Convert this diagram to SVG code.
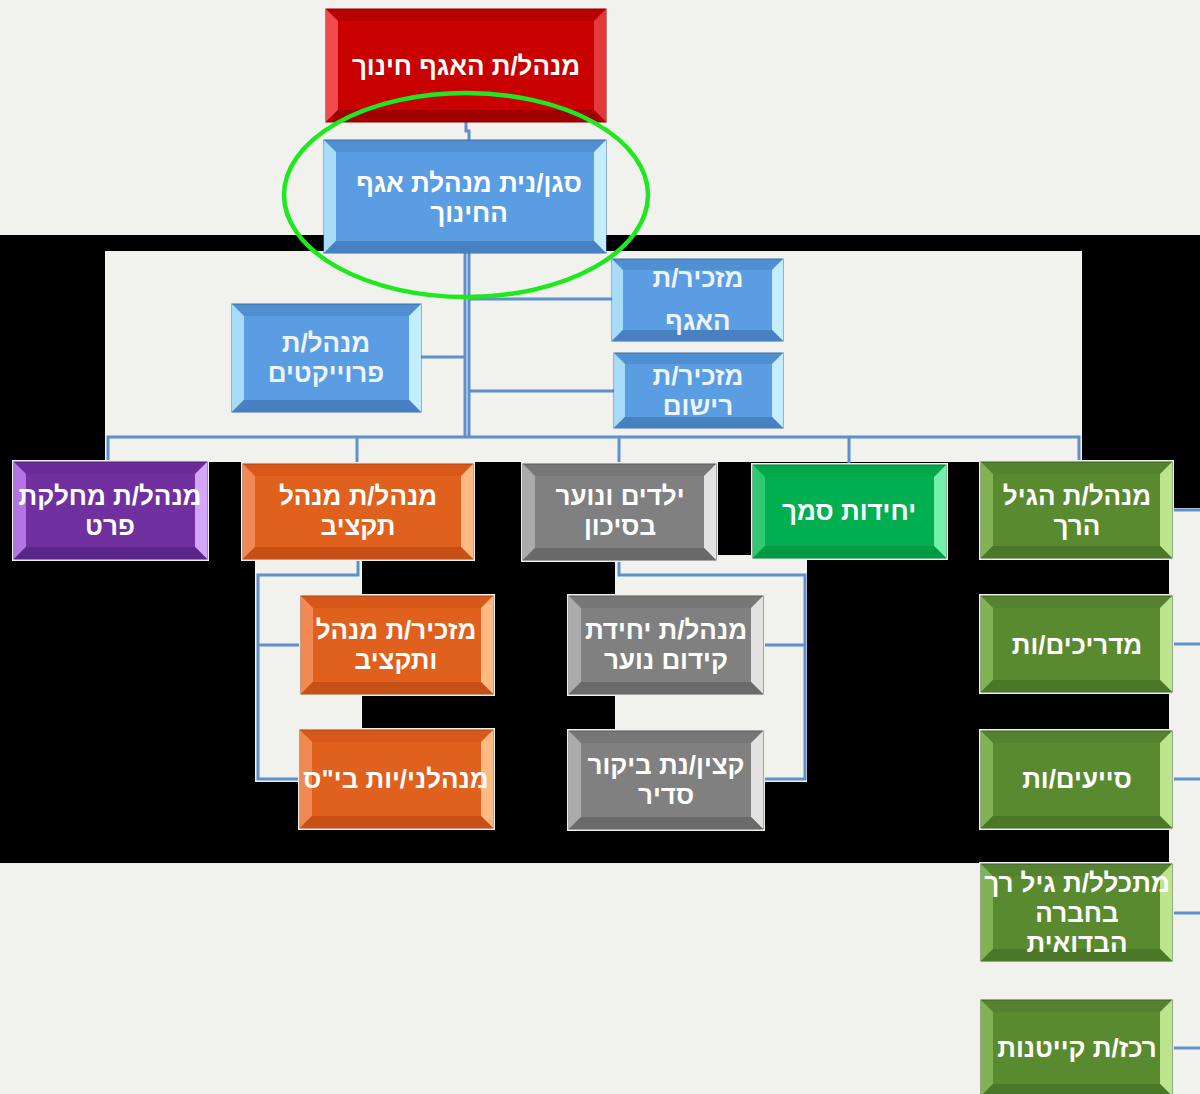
<svg xmlns="http://www.w3.org/2000/svg" width="1200" height="1094" viewBox="0 0 1200 1094">
<style>
.t{fill:#ffffff;font-family:"Liberation Sans","DejaVu Sans",Arial,sans-serif;font-weight:bold;font-size:26px;text-anchor:middle;direction:rtl}
.tl{fill:#eef4fb}
.halo{fill:#eef0ea}
.con{fill:none;stroke:#5f90cc;stroke-width:3}
.red .o{fill:#b80000;stroke:#8c0000;stroke-width:1}.red .l{fill:#f04a4a}.red .r{fill:#e23a3a}.red .b{fill:#a20000}.red .f{fill:#c80000}
.blue .o{fill:#4f8fd2;stroke:#3a6ea8;stroke-width:1}.blue .l{fill:#a6dcf8}.blue .r{fill:#c2eeff}.blue .b{fill:#4781c2}.blue .f{fill:#5b9de2}
.pur .o{fill:#6a2c98;stroke:#4e1f74;stroke-width:1}.pur .l{fill:#b474e4}.pur .r{fill:#d4a6fa}.pur .b{fill:#5c2688}.pur .f{fill:#7030a0}
.ora .o{fill:#d8581a;stroke:#a84412;stroke-width:1}.ora .l{fill:#f08a52}.ora .r{fill:#ffba84}.ora .b{fill:#c65016}.ora .f{fill:#e0601e}
.gry .o{fill:#777777;stroke:#5a5a5a;stroke-width:1}.gry .l{fill:#ababab}.gry .r{fill:#e2e2e2}.gry .b{fill:#6a6a6a}.gry .f{fill:#808080}
.smk .o{fill:#00a84a;stroke:#008038;stroke-width:1}.smk .l{fill:#30c870}.smk .r{fill:#74f0aa}.smk .b{fill:#009a44}.smk .f{fill:#00b050}
.olv .o{fill:#558230;stroke:#3f6322;stroke-width:1}.olv .l{fill:#82b252}.olv .r{fill:#bce48c}.olv .b{fill:#4b7828}.olv .f{fill:#5a8a30}
</style>
<rect x="0" y="0" width="1200" height="1094" fill="#f1f2ed"/>
<g id="backdrop">
<rect x="0" y="235" width="1169" height="628" fill="#000000"/>
<rect x="1169" y="235" width="31" height="273" fill="#000000"/>
<rect x="105" y="251" width="977" height="211" fill="#f1f2ed"/>
<rect x="255" y="558" width="107" height="224" fill="#f1f2ed"/>
<rect x="615" y="555" width="192" height="227" fill="#f1f2ed"/>
</g>
<g id="connectors">
<path class="con" d="M466,122 V131 H469 V140"/>
<path class="con" d="M465,253 V437"/>
<path class="con" d="M469,253 V437"/>
<path class="con" d="M469,299 H612"/>
<path class="con" d="M469,391 H614"/>
<path class="con" d="M421,357 H465"/>
<path class="con" d="M108,462 V437 H1079 V462"/>
<path class="con" d="M357,437 V464"/>
<path class="con" d="M619,437 V464"/>
<path class="con" d="M849,437 V465"/>
<path class="con" d="M358,559 V575 H258 V779 H300"/>
<path class="con" d="M258,645 H301"/>
<path class="con" d="M619,560 V575 H805 V779 H763"/>
<path class="con" d="M805,645 H763"/>
<path class="con" d="M1172,510 H1200"/>
<path class="con" d="M1172,644 H1200"/>
<path class="con" d="M1172,779 H1200"/>
<path class="con" d="M1172,913 H1200"/>
<path class="con" d="M1172,1048 H1200"/>
</g>
<g id="n-head" class="red">
<rect class="o" x="326" y="9" width="280" height="113"/>
<polygon class="l" points="326,9 338,21 338,110 326,122"/>
<polygon class="r" points="606,9 594,21 594,110 606,122"/>
<polygon class="b" points="326,122 606,122 594,110 338,110"/>
<rect class="f" x="338" y="21" width="256" height="89"/>
<text class="t" x="466" y="75">מנהל/ת האגף חינוך</text>
</g>
<g id="n-deputy" class="blue">
<rect class="o" x="324" y="140" width="282" height="113"/>
<polygon class="l" points="324,140 336,152 336,241 324,253"/>
<polygon class="r" points="606,140 594,152 594,241 606,253"/>
<polygon class="b" points="324,253 606,253 594,241 336,241"/>
<rect class="f" x="336" y="152" width="258" height="89"/>
<text class="t" x="469" y="192">סגן/נית מנהלת אגף</text>
<text class="t" x="469" y="222">החינוך</text>
</g>
<g id="n-sec1" class="blue">
<rect class="o" x="612" y="259" width="171" height="82"/>
<polygon class="l" points="612,259 623,270 623,330 612,341"/>
<polygon class="r" points="783,259 772,270 772,330 783,341"/>
<polygon class="b" points="612,341 783,341 772,330 623,330"/>
<rect class="f" x="623" y="270" width="149" height="60"/>
<text class="t tl" x="698" y="287">מזכיר/ת</text>
<text class="t tl" x="698" y="330">האגף</text>
</g>
<g id="n-sec2" class="blue">
<rect class="o" x="614" y="353" width="169" height="75"/>
<polygon class="l" points="614,353 625,364 625,417 614,428"/>
<polygon class="r" points="783,353 772,364 772,417 783,428"/>
<polygon class="b" points="614,428 783,428 772,417 625,417"/>
<rect class="f" x="625" y="364" width="147" height="53"/>
<text class="t tl" x="698" y="385">מזכיר/ת</text>
<text class="t tl" x="698" y="415">רישום</text>
</g>
<g id="n-projects" class="blue">
<rect class="o" x="232" y="304" width="189" height="108"/>
<polygon class="l" points="232,304 244,316 244,400 232,412"/>
<polygon class="r" points="421,304 409,316 409,400 421,412"/>
<polygon class="b" points="232,412 421,412 409,400 244,400"/>
<rect class="f" x="244" y="316" width="165" height="84"/>
<text class="t tl" x="326" y="352">מנהל/ת</text>
<text class="t tl" x="326" y="382">פרוייקטים</text>
</g>
<g id="n-prat" class="pur">
<rect class="halo" x="12" y="460" width="197" height="101"/>
<rect class="o" x="14" y="462" width="193" height="97"/>
<polygon class="l" points="14,462 26,474 26,547 14,559"/>
<polygon class="r" points="207,462 195,474 195,547 207,559"/>
<polygon class="b" points="14,559 207,559 195,547 26,547"/>
<rect class="f" x="26" y="474" width="169" height="73"/>
<text class="t" x="110" y="505">מנהל/ת מחלקת</text>
<text class="t" x="110" y="535">פרט</text>
</g>
<g id="n-budget" class="ora">
<rect class="halo" x="241" y="462" width="234" height="99"/>
<rect class="o" x="243" y="464" width="230" height="95"/>
<polygon class="l" points="243,464 255,476 255,547 243,559"/>
<polygon class="r" points="473,464 461,476 461,547 473,559"/>
<polygon class="b" points="243,559 473,559 461,547 255,547"/>
<rect class="f" x="255" y="476" width="206" height="71"/>
<text class="t" x="358" y="505">מנהל/ת מנהל</text>
<text class="t" x="358" y="535">תקציב</text>
</g>
<g id="n-budget-sec" class="ora">
<rect class="halo" x="299" y="594" width="196" height="102"/>
<rect class="o" x="301" y="596" width="192" height="98"/>
<polygon class="l" points="301,596 313,608 313,682 301,694"/>
<polygon class="r" points="493,596 481,608 481,682 493,694"/>
<polygon class="b" points="301,694 493,694 481,682 313,682"/>
<rect class="f" x="313" y="608" width="168" height="74"/>
<text class="t" x="396" y="639">מזכיר/ת מנהל</text>
<text class="t" x="396" y="669">ותקציב</text>
</g>
<g id="n-school-admins" class="ora">
<rect class="halo" x="298" y="728" width="197" height="102"/>
<rect class="o" x="300" y="730" width="193" height="98"/>
<polygon class="l" points="300,730 312,742 312,816 300,828"/>
<polygon class="r" points="493,730 481,742 481,816 493,828"/>
<polygon class="b" points="300,828 493,828 481,816 312,816"/>
<rect class="f" x="312" y="742" width="169" height="74"/>
<text class="t" x="396" y="788">מנהלני/יות בי"ס</text>
</g>
<g id="n-youth-risk" class="gry">
<rect class="halo" x="521" y="462" width="197" height="100"/>
<rect class="o" x="523" y="464" width="193" height="96"/>
<polygon class="l" points="523,464 535,476 535,548 523,560"/>
<polygon class="r" points="716,464 704,476 704,548 716,560"/>
<polygon class="b" points="523,560 716,560 704,548 535,548"/>
<rect class="f" x="535" y="476" width="169" height="72"/>
<text class="t" x="620" y="505">ילדים ונוער</text>
<text class="t" x="620" y="535">בסיכון</text>
</g>
<g id="n-youth-unit" class="gry">
<rect class="halo" x="567" y="594" width="198" height="102"/>
<rect class="o" x="569" y="596" width="194" height="98"/>
<polygon class="l" points="569,596 581,608 581,682 569,694"/>
<polygon class="r" points="763,596 751,608 751,682 763,694"/>
<polygon class="b" points="569,694 763,694 751,682 581,682"/>
<rect class="f" x="581" y="608" width="170" height="74"/>
<text class="t" x="666" y="639">מנהל/ת יחידת</text>
<text class="t" x="666" y="669">קידום נוער</text>
</g>
<g id="n-attendance" class="gry">
<rect class="halo" x="567" y="729" width="198" height="102"/>
<rect class="o" x="569" y="731" width="194" height="98"/>
<polygon class="l" points="569,731 581,743 581,817 569,829"/>
<polygon class="r" points="763,731 751,743 751,817 763,829"/>
<polygon class="b" points="569,829 763,829 751,817 581,817"/>
<rect class="f" x="581" y="743" width="170" height="74"/>
<text class="t" x="666" y="774">קצין/נת ביקור</text>
<text class="t" x="666" y="804">סדיר</text>
</g>
<g id="n-samach" class="smk">
<rect class="halo" x="751" y="463" width="197" height="97"/>
<rect class="o" x="753" y="465" width="193" height="93"/>
<polygon class="l" points="753,465 765,477 765,546 753,558"/>
<polygon class="r" points="946,465 934,477 934,546 946,558"/>
<polygon class="b" points="753,558 946,558 934,546 765,546"/>
<rect class="f" x="765" y="477" width="169" height="69"/>
<text class="t" x="849" y="520">יחידות סמך</text>
</g>
<g id="n-early-childhood" class="olv">
<rect class="halo" x="979" y="460" width="195" height="100"/>
<rect class="o" x="981" y="462" width="191" height="96"/>
<polygon class="l" points="981,462 993,474 993,546 981,558"/>
<polygon class="r" points="1172,462 1160,474 1160,546 1172,558"/>
<polygon class="b" points="981,558 1172,558 1160,546 993,546"/>
<rect class="f" x="993" y="474" width="167" height="72"/>
<text class="t" x="1077" y="505">מנהל/ת הגיל</text>
<text class="t" x="1077" y="535">הרך</text>
</g>
<g id="n-instructors" class="olv">
<rect class="halo" x="979" y="594" width="195" height="100"/>
<rect class="o" x="981" y="596" width="191" height="96"/>
<polygon class="l" points="981,596 993,608 993,680 981,692"/>
<polygon class="r" points="1172,596 1160,608 1160,680 1172,692"/>
<polygon class="b" points="981,692 1172,692 1160,680 993,680"/>
<rect class="f" x="993" y="608" width="167" height="72"/>
<text class="t" x="1077" y="654">מדריכים/ות</text>
</g>
<g id="n-assistants" class="olv">
<rect class="halo" x="979" y="729" width="195" height="101"/>
<rect class="o" x="981" y="731" width="191" height="97"/>
<polygon class="l" points="981,731 993,743 993,816 981,828"/>
<polygon class="r" points="1172,731 1160,743 1160,816 1172,828"/>
<polygon class="b" points="981,828 1172,828 1160,816 993,816"/>
<rect class="f" x="993" y="743" width="167" height="73"/>
<text class="t" x="1077" y="788">סייעים/ות</text>
</g>
<g id="n-bedouin" class="olv">
<rect class="halo" x="979" y="862" width="195" height="101"/>
<rect class="o" x="981" y="864" width="191" height="97"/>
<polygon class="l" points="981,864 993,876 993,949 981,961"/>
<polygon class="r" points="1172,864 1160,876 1160,949 1172,961"/>
<polygon class="b" points="981,961 1172,961 1160,949 993,949"/>
<rect class="f" x="993" y="876" width="167" height="73"/>
<text class="t" x="1077" y="892">מתכלל/ת גיל רך</text>
<text class="t" x="1077" y="922">בחברה</text>
<text class="t" x="1077" y="952">הבדואית</text>
</g>
<g id="n-camps" class="olv">
<rect class="halo" x="979" y="998" width="195" height="100"/>
<rect class="o" x="981" y="1000" width="191" height="96"/>
<polygon class="l" points="981,1000 993,1012 993,1084 981,1096"/>
<polygon class="r" points="1172,1000 1160,1012 1160,1084 1172,1096"/>
<polygon class="b" points="981,1096 1172,1096 1160,1084 993,1084"/>
<rect class="f" x="993" y="1012" width="167" height="72"/>
<text class="t" x="1077" y="1057">רכז/ת קייטנות</text>
</g>
<ellipse id="highlight" cx="466" cy="195" rx="182" ry="102" fill="none" stroke="#1ee81e" stroke-width="4.5"/>
</svg>
